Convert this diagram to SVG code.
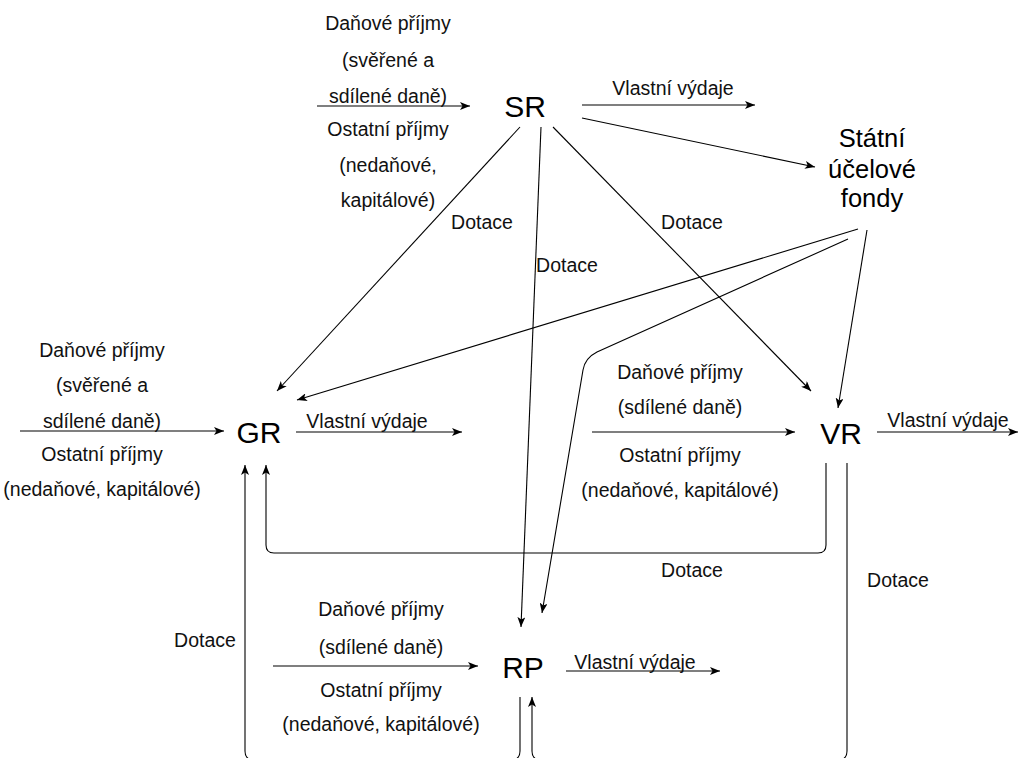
<svg xmlns="http://www.w3.org/2000/svg" width="1022" height="758" viewBox="0 0 1022 758">
  <style>
    .lbl { font-family: "Liberation Sans", Arial, sans-serif; font-size: 19.5px; fill: #111; text-anchor: middle; }
    .node { font-family: "Liberation Sans", Arial, sans-serif; font-size: 30px; fill: #000; text-anchor: middle; }
    .fund { font-family: "Liberation Sans", Arial, sans-serif; font-size: 25.5px; fill: #000; text-anchor: middle; }
    .edge { fill: none; stroke: #000; stroke-width: 1.1; }
  </style>
  <defs>
    <marker id="arrow" viewBox="0 0 10 8" markerWidth="10" markerHeight="8" refX="10" refY="4" orient="auto" markerUnits="userSpaceOnUse">
      <path d="M0,0 L10,4 L0,8 L2.5,4 Z" fill="#000"/>
    </marker>
  </defs>
  <rect width="1022" height="758" fill="#fff"/>

  <!-- connectors -->
  <g id="connectors" class="edge" marker-end="url(#arrow)">
    <path d="M317 106 L470 106"/>
    <path d="M582 105 L755 105"/>
    <path d="M582 118 L815 167"/>
    <path d="M520 127 L277 391"/>
    <path d="M541 127 L521 627"/>
    <path d="M553 127 L811 391"/>
    <path d="M858 229 L297 400"/>
    <path d="M848 239 L597 352 Q585 358 583 370 L542 613"/>
    <path d="M867 230 L838 408"/>
    <path d="M20 431 L224 431"/>
    <path d="M296 432 L462 432"/>
    <path d="M592 432 L795 432"/>
    <path d="M877 432 L1018 432"/>
    <path d="M273 666 L478 666"/>
    <path d="M566 671 L720 671"/>
    <path d="M826 463 L826 545 Q826 553 818 553 L274 553 Q266 553 266 545 L266 465"/>
    <path d="M847 463 L847 751 Q847 760 838 760 L541 760 Q532 760 532 751 L532 697"/>
    <path d="M520 697 L520 751 Q520 760 511 760 L254 760 Q245 760 245 751 L245 465"/>
  </g>

  <!-- connector labels -->
  <g id="edge-labels" class="lbl">
    <text x="388" y="30">Daňové příjmy</text>
    <text x="388" y="67">(svěřené a</text>
    <text x="388" y="103">sdílené daně)</text>
    <text x="388" y="136">Ostatní příjmy</text>
    <text x="388" y="172">(nedaňové,</text>
    <text x="388" y="207">kapitálové)</text>
    <text x="673" y="95">Vlastní výdaje</text>
    <text x="482" y="229">Dotace</text>
    <text x="567" y="272">Dotace</text>
    <text x="692" y="229">Dotace</text>

    <text x="102" y="357">Daňové příjmy</text>
    <text x="102" y="392">(svěřené a</text>
    <text x="102" y="428">sdílené daně)</text>
    <text x="102" y="461">Ostatní příjmy</text>
    <text x="102" y="496">(nedaňové, kapitálové)</text>
    <text x="367" y="428">Vlastní výdaje</text>

    <text x="680" y="379">Daňové příjmy</text>
    <text x="680" y="414">(sdílené daně)</text>
    <text x="680" y="462">Ostatní příjmy</text>
    <text x="680" y="497">(nedaňové, kapitálové)</text>
    <text x="948" y="427">Vlastní výdaje</text>

    <text x="692" y="577">Dotace</text>
    <text x="898" y="587">Dotace</text>
    <text x="205" y="647">Dotace</text>

    <text x="381" y="616">Daňové příjmy</text>
    <text x="381" y="654">(sdílené daně)</text>
    <text x="381" y="697">Ostatní příjmy</text>
    <text x="381" y="731">(nedaňové, kapitálové)</text>
    <text x="635" y="669">Vlastní výdaje</text>
  </g>

  <!-- nodes -->
  <g id="SR"><text class="node" x="525" y="117">SR</text></g>
  <g id="SUF">
    <text class="fund" x="872" y="147">Státní</text>
    <text class="fund" x="872" y="178">účelové</text>
    <text class="fund" x="872" y="207">fondy</text>
  </g>
  <g id="GR"><text class="node" x="259" y="443">GR</text></g>
  <g id="VR"><text class="node" x="841" y="444">VR</text></g>
  <g id="RP"><text class="node" x="523" y="678">RP</text></g>
</svg>
